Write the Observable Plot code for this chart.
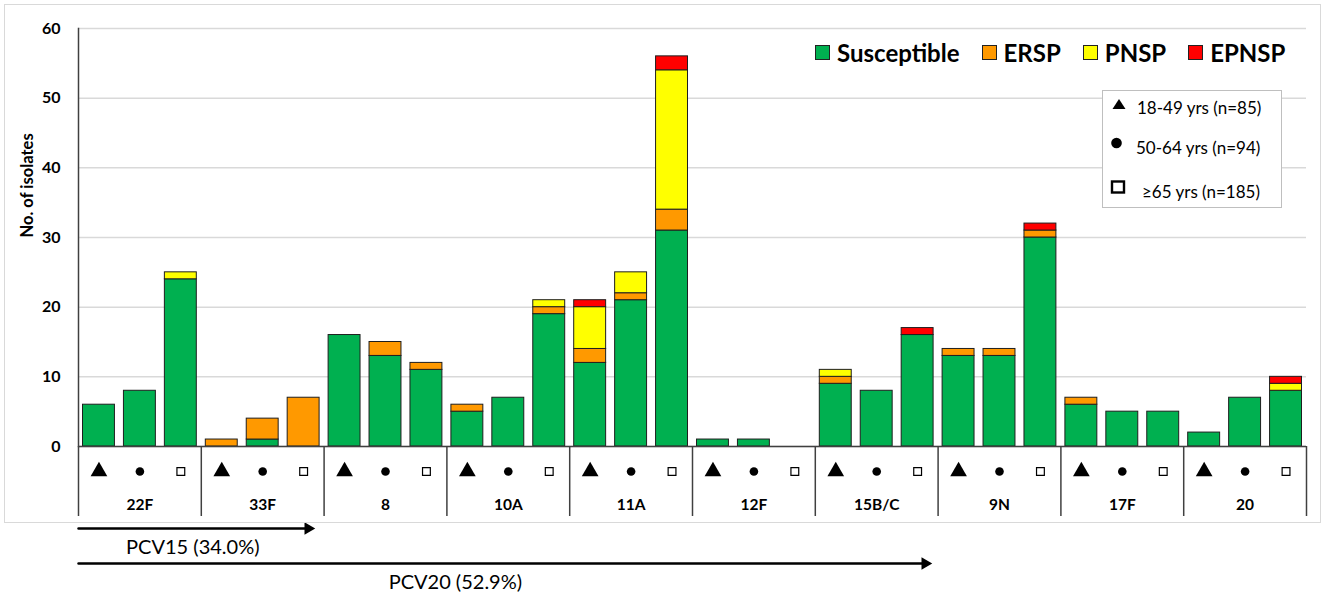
<!DOCTYPE html>
<html>
<head>
<meta charset="utf-8">
<script src="https://cdn.jsdelivr.net/npm/d3@7"></script>
<script src="https://cdn.jsdelivr.net/npm/@observablehq/plot@0.6"></script>
<style>
  body { margin: 0; background: #fff; font-family: Lato, "Open Sans", sans-serif; }
  #wrap { position: relative; width: 1325px; height: 599px; overflow: hidden; }
  #wrap > svg { position: absolute; left: 0; top: 0; }
  #border { position: absolute; left: 4px; top: 4px; width: 1317px; height: 519px; border: 1.5px solid #d9d9d9; box-sizing: border-box; }
  #legend { position: absolute; left: 815px; top: 38px; display: flex; align-items: center; font-weight: bold; font-size: 24px; color: #000; white-space: nowrap; }
  #legend .item { display: flex; align-items: center; margin-right: 22px; }
  #legend .sw { width: 15px; height: 15px; border: 1.5px solid #222; margin-right: 7px; box-sizing: border-box; }
  #ages { position: absolute; left: 1102px; top: 90px; width: 180px; height: 118px; border: 1.5px solid #bfbfbf; box-sizing: border-box; background: #fff; }
  #ages svg { position: absolute; left: -1.5px; top: -1.5px; }
</style>
</head>
<body>
<div id="wrap"></div>
<script>
// ---- data ----
const serotypes = ["22F", "33F", "8", "10A", "11A", "12F", "15B/C", "9N", "17F", "20"];
const ageGroups = ["18-49", "50-64", "≥65"];
const ageLabels = ["18-49 yrs (n=85)", "50-64 yrs (n=94)", "≥65 yrs (n=185)"];
const categories = ["Susceptible", "ERSP", "PNSP", "EPNSP"];
// values in order: serotype × (18-49, 50-64, ≥65)
const susceptible = [6, 8, 24,  0, 1, 0,  16, 13, 11,  5, 7, 19,  12, 21, 31,  1, 1, 0,  9, 8, 16,  13, 13, 30,  6, 5, 5,  2, 7, 8];
const ersp        = [0, 0, 0,   1, 3, 7,  0, 2, 1,     1, 0, 1,   2, 1, 3,     0, 0, 0,  1, 0, 0,   1, 1, 1,     1, 0, 0,  0, 0, 0];
const pnsp        = [0, 0, 1,   0, 0, 0,  0, 0, 0,     0, 0, 1,   6, 3, 20,    0, 0, 0,  1, 0, 0,   0, 0, 0,     0, 0, 0,  0, 0, 1];
const epnsp       = [0, 0, 0,   0, 0, 0,  0, 0, 0,     0, 0, 0,   1, 0, 2,     0, 0, 0,  0, 0, 1,   0, 0, 1,     0, 0, 0,  0, 0, 1];
const yTicks = [0, 10, 20, 30, 40, 50, 60];
const vaccines = ["PCV15 (34.0%)", "PCV20 (52.9%)"];
const vaccineLastSerotype = ["33F", "15B/C"];

// ---- styles / layout ----
const colors = ["#00B050", "#FF9900", "#FFFF00", "#FF0000"];
const W = 1325, H = 599, mL = 78, mR = 19, mT = 28, mB = 153;
const font = "Lato, 'Open Sans', sans-serif";

const seriesValues = [susceptible, ersp, pnsp, epnsp];
const keys = serotypes.flatMap(s => ageGroups.map(a => s + "|" + a));
const step = (W - mL - mR) / keys.length;
const pxPerUnit = (H - mB - mT) / (yTicks[yTicks.length - 1] - yTicks[0]);
const tableDepth = 70 / pxPerUnit;

const rows = [];
keys.forEach((k, i) => {
  categories.forEach((c, j) => {
    const v = seriesValues[j][i];
    if (v > 0) rows.push({key: k, serotype: k.split("|")[0], age: k.split("|")[1], category: c, value: v});
  });
});

const firstKeys = serotypes.map(s => s + "|" + ageGroups[0]);
const lastKey = keys[keys.length - 1];

const vac = vaccines.map((v, i) => ({
  label: v,
  x1: keys[0],
  x2: vaccineLastSerotype[i] + "|" + ageGroups[2]
}));
const vacLabelKey = ["22F|≥65", "10A|18-49"];
const vacLabelDx = [12, -12];
const tipInset = [10, 7];

const symbolFor = {"18-49": "triangle", "50-64": "circle", "≥65": "square"};

const vaccineMarks = vac.flatMap((v, i) => [
  Plot.arrow([v], {x1: "x1", x2: "x2", y1: () => 0, y2: () => 0, dy: 82 + 35 * i,
    stroke: "#000", strokeWidth: 2.5, headLength: 0, insetStart: -step / 2, insetEnd: -step / 2 + tipInset[i] + 7}),
  Plot.dot([v], {x: "x2", y: () => 0, dy: 82 + 35 * i, dx: step / 2 - tipInset[i] - 6, symbol: "triangle", rotate: 90, r: 4.6, fill: "#000"}),
  Plot.text([v], {x: () => vacLabelKey[i], y: () => 0, dy: 101 + 35 * i, dx: vacLabelDx[i], text: "label", fontSize: 20, fill: "#000"})
]);

const plot = Plot.plot({
  width: W, height: H,
  marginLeft: mL, marginRight: mR, marginTop: mT, marginBottom: mB,
  style: {fontFamily: font, background: "transparent", color: "#000"},
  x: {type: "band", domain: keys, paddingInner: 0.22, paddingOuter: 0.11, round: false, axis: null},
  y: {domain: [0, 60], axis: null},
  color: {domain: categories, range: colors},
  marks: [
    Plot.gridY(yTicks, {stroke: "#d9d9d9", strokeOpacity: 1, strokeWidth: 1.5}),
    Plot.axisY(yTicks, {tickSize: 0, tickPadding: 18, fontSize: 16, fontWeight: "bold", label: null}),
    Plot.text(["No. of isolates"], {frameAnchor: "left", dx: -51, rotate: -90, fontSize: 16.5, fontWeight: "bold", fill: "#000"}),
    Plot.barY(rows, {x: "key", y: "value", fill: "category", stroke: "#1e1e1e", strokeWidth: 1, order: categories}),
    Plot.ruleY([0], {stroke: "#404040", strokeWidth: 1.5}),
    Plot.frame({anchor: "left", stroke: "#404040", strokeWidth: 1.5}),
    // table group boundaries
    Plot.ruleX(firstKeys, {x: d => d, y1: 0, y2: -tableDepth, dx: -step / 2, stroke: "#404040", strokeWidth: 1.5}),
    Plot.ruleX([lastKey], {x: d => d, y1: 0, y2: -tableDepth, dx: step / 2, stroke: "#404040", strokeWidth: 1.5}),
    // age symbols
    Plot.dot(keys.filter(k => k.endsWith(ageGroups[0])), {x: d => d, y: () => 0, dy: 25, symbol: () => symbolFor[ageGroups[0]], r: 6.2, fill: "#000"}),
    Plot.dot(keys.filter(k => k.endsWith(ageGroups[1])), {x: d => d, y: () => 0, dy: 25, symbol: () => symbolFor[ageGroups[1]], r: 4.3, fill: "#000"}),
    Plot.dot(keys.filter(k => k.endsWith(ageGroups[2])), {x: d => d, y: () => 0, dy: 25, symbol: () => symbolFor[ageGroups[2]], r: 4.4, fill: "#fff", stroke: "#000", strokeWidth: 1.2}),
    // serotype labels
    Plot.text(serotypes, {x: s => s + "|" + ageGroups[1], y: () => 0, dy: 59, text: d => d, fontSize: 15.5, fontWeight: "bold", fill: "#000"}),
    ...vaccineMarks
  ]
});

const wrap = document.getElementById("wrap");
wrap.appendChild(plot);

const border = document.createElement("div");
border.id = "border";
wrap.appendChild(border);

// category legend
const legend = document.createElement("div");
legend.id = "legend";
categories.forEach((c, i) => {
  const item = document.createElement("div");
  item.className = "item";
  const sw = document.createElement("div");
  sw.className = "sw";
  sw.style.background = colors[i];
  const t = document.createElement("span");
  t.textContent = c;
  item.appendChild(sw);
  item.appendChild(t);
  legend.appendChild(item);
});
wrap.appendChild(legend);

// age legend (box at 1102,90)
const ages = document.createElement("div");
ages.id = "ages";
const NS = "http://www.w3.org/2000/svg";
const asvg = document.createElementNS(NS, "svg");
asvg.setAttribute("width", 180);
asvg.setAttribute("height", 118);
const symCenter = [[17, 14], [14.5, 53], [16, 97]];
const textX = [35, 34, 40];
const textY = [24, 64, 108];
const symMarkup = {
  triangle: ([cx, cy]) => `<path d="M${cx},${cy - 5} L${cx + 6.5},${cy + 5} L${cx - 6.5},${cy + 5} Z" fill="#000"/>`,
  circle: ([cx, cy]) => `<circle cx="${cx}" cy="${cy}" r="5.3" fill="#000"/>`,
  square: ([cx, cy]) => `<rect x="${cx - 6}" y="${cy - 5.5}" width="12" height="11" fill="#fff" stroke="#000" stroke-width="2.4"/>`
};
let inner = "";
ageGroups.forEach((a, i) => {
  inner += symMarkup[symbolFor[a]](symCenter[i]);
  inner += `<text x="${textX[i]}" y="${textY[i]}" font-family="${font.replace(/'/g, "")}" font-size="17" fill="#000">${ageLabels[i]}</text>`;
});
asvg.innerHTML = inner;
ages.appendChild(asvg);
wrap.appendChild(ages);
</script>
</body>
</html>
